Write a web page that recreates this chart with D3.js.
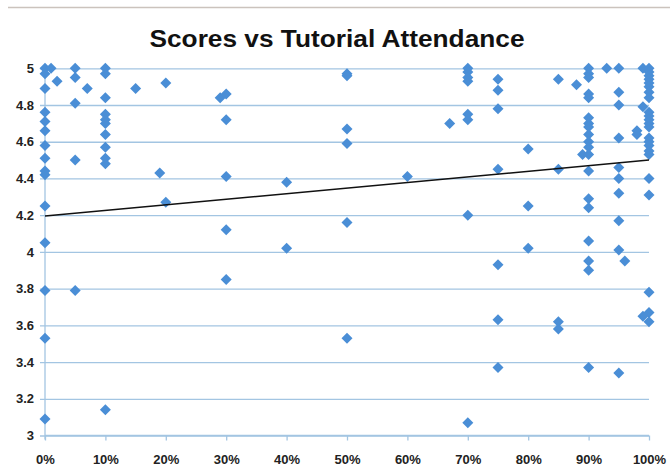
<!DOCTYPE html>
<html><head><meta charset="utf-8">
<script src="https://cdn.jsdelivr.net/npm/d3@7"></script>
<style>html,body{margin:0;padding:0;background:#fff;}svg{display:block;}</style>
</head><body>
<svg id="chart" width="670" height="476"></svg>
<script>
// attendance (fraction) and score, one entry per student
const attendance = [
  0,0,0,0,0,0,0,0,0,0,0,0,0,0,0,
  0.01,0.02,
  0.05,0.05,0.05,0.05,0.05,
  0.07,
  0.10,0.10,0.10,0.10,0.10,0.10,0.10,0.10,0.10,0.10,0.10,
  0.15,0.19,0.20,0.20,
  0.29,0.30,0.30,0.30,0.30,0.30,
  0.40,0.40,
  0.50,0.50,0.50,0.50,0.50,0.50,
  0.60,0.67,
  0.70,0.70,0.70,0.70,0.70,0.70,0.70,0.70,
  0.75,0.75,0.75,0.75,0.75,0.75,0.75,
  0.80,0.80,0.80,
  0.85,0.85,0.85,0.85,
  0.88,0.89,
  0.90,0.90,0.90,0.90,0.90,0.90,0.90,0.90,0.90,0.90,0.90,0.90,0.90,0.90,0.90,0.90,0.90,0.90,0.90,
  0.93,
  0.95,0.95,0.95,0.95,0.95,0.95,0.95,0.95,0.95,0.95,
  0.96,0.98,0.98,0.99,0.99,0.99,
  1,1,1,1,1,1,1,1,1,1,1,1,1,1,1,1,1,1,1,1,1,1,1
];
const scores = [
  5.0,4.97,4.89,4.76,4.71,4.66,4.58,4.51,4.44,4.42,4.25,4.05,3.79,3.53,3.09,
  5.0,4.93,
  5.0,4.95,4.81,4.50,3.79,
  4.89,
  5.0,4.97,4.84,4.75,4.72,4.70,4.64,4.57,4.51,4.48,3.14,
  4.89,4.43,4.92,4.27,
  4.84,4.86,4.72,4.41,4.12,3.85,
  4.38,4.02,
  4.97,4.96,4.67,4.59,4.16,3.53,
  4.41,4.70,
  5.0,4.98,4.95,4.93,4.75,4.72,4.20,3.07,
  4.94,4.88,4.78,4.45,3.93,3.63,3.37,
  4.56,4.25,4.02,
  4.94,4.45,3.62,3.58,
  4.91,4.53,
  5.0,4.97,4.95,4.86,4.84,4.73,4.70,4.68,4.64,4.60,4.57,4.53,4.44,4.29,4.24,4.06,3.95,3.90,3.37,
  5.0,
  5.0,4.87,4.80,4.62,4.46,4.40,4.32,4.17,4.01,3.34,
  3.95,4.66,4.64,5.0,4.79,3.65,
  5.0,4.98,4.96,4.94,4.92,4.90,4.87,4.84,4.76,4.74,4.72,4.70,4.68,4.62,4.60,4.58,4.55,4.53,4.40,4.31,3.78,3.67,3.62
];
const trendX = [0, 1];
const trendY = [4.195, 4.50];
const yTicks = [3, 3.2, 3.4, 3.6, 3.8, 4, 4.2, 4.4, 4.6, 4.8, 5];
const xTicks = [0, 0.1, 0.2, 0.3, 0.4, 0.5, 0.6, 0.7, 0.8, 0.9, 1];
const title = "Scores vs Tutorial Attendance";

const svg = d3.select("#chart");
const x = d3.scaleLinear().domain([0, 1]).range([45, 649]);
const y = d3.scaleLinear().domain([3, 5]).range([435.5, 68.3]);
const gridColor = "#a3c5e2";
const blue = "#4a8ed6";

// frame top line
svg.append("line").attr("x1", 8).attr("x2", 670).attr("y1", 7.5).attr("y2", 7.5)
  .attr("stroke", "#cbc3bd").attr("stroke-width", 1.5);

svg.append("text").attr("x", 337).attr("y", 47).attr("text-anchor", "middle")
  .attr("font-family", "Liberation Sans, Arial, sans-serif").attr("font-weight", "bold")
  .attr("font-size", 24).attr("fill", "#111").attr("textLength", 375)
  .attr("lengthAdjust", "spacingAndGlyphs").text(title);

// y axis with gridlines
const yAxis = d3.axisLeft(y).tickValues(yTicks).tickSize(-(649 - 40)).tickPadding(10)
  .tickFormat(d => d3.format("")(+d.toFixed(1)));
const gy = svg.append("g").attr("transform", "translate(40,0)").call(yAxis);
gy.select(".domain").remove();
gy.selectAll(".tick line").attr("stroke", gridColor).attr("stroke-width", 1.3);
gy.selectAll(".tick text").attr("font-family", "Liberation Sans, Arial, sans-serif")
  .attr("font-weight", "bold").attr("font-size", 13).attr("fill", "#222").attr("x", -6);

// left axis line
svg.append("line").attr("x1", 45).attr("x2", 45).attr("y1", y(5)).attr("y2", y(3) + 4)
  .attr("stroke", gridColor).attr("stroke-width", 1.3);

// x axis
const xAxis = d3.axisBottom(x).tickValues(xTicks).tickSize(5).tickPadding(14)
  .tickFormat(d3.format(".0%"));
const gx = svg.append("g").attr("transform", `translate(0,${y(3)})`).call(xAxis);
gx.select(".domain").attr("stroke", gridColor).attr("stroke-width", 1.3)
  .attr("d", `M${x(0)},0H${x(1)}`);
gx.selectAll(".tick line").attr("stroke", gridColor).attr("stroke-width", 1.3);
gx.selectAll(".tick text").attr("font-family", "Liberation Sans, Arial, sans-serif")
  .attr("font-weight", "bold").attr("font-size", 13).attr("fill", "#222");

// points
const pts = attendance.map((a, i) => ({a, s: scores[i]}));
svg.append("g").selectAll("path").data(pts).join("path")
  .attr("d", "M0,-5.5L5.5,0L0,5.5L-5.5,0Z")
  .attr("transform", d => `translate(${x(d.a)},${y(d.s)})`)
  .attr("fill", blue);

// trend line
svg.append("line")
  .attr("x1", x(trendX[0])).attr("y1", y(trendY[0]))
  .attr("x2", x(trendX[1])).attr("y2", y(trendY[1]))
  .attr("stroke", "#111").attr("stroke-width", 1.5);
</script>
</body></html>
